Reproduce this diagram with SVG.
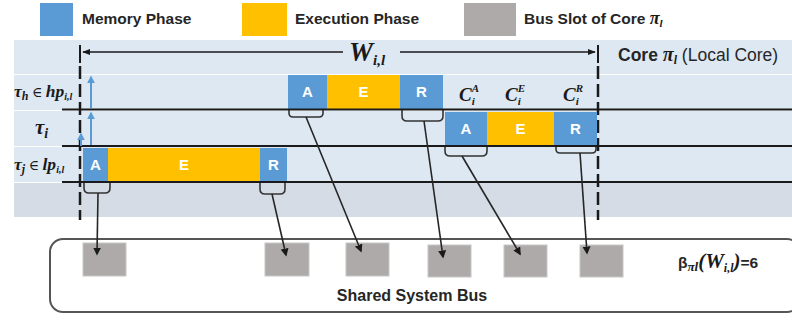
<svg xmlns="http://www.w3.org/2000/svg" width="792" height="320" viewBox="0 0 792 320">
  <style>
    .mem { fill: #5b9bd5; }
    .exe { fill: #ffc000; }
    .slot { fill: #aeaaaa; stroke: #c8c6c6; stroke-width: 1; }
    .legend { font-family: "Liberation Sans", Arial, sans-serif; font-weight: bold; font-size: 15.5px; fill: #262626; }
    .phase { font-family: "Liberation Sans", Arial, sans-serif; font-weight: bold; font-size: 15px; fill: #ffffff; text-anchor: middle; }
    .math { font-family: "Liberation Serif", "DejaVu Serif", serif; font-weight: bold; font-style: italic; fill: #1a1a1a; }
    .axis { stroke: #1a1a1a; stroke-width: 2; fill: none; }
    .dash { stroke: #1a1a1a; stroke-width: 2.5; stroke-dasharray: 13 5; fill: none; }
    .brace { stroke: #333; stroke-width: 1.6; fill: none; }
    .conn { stroke: #262626; stroke-width: 1.6; fill: none; marker-end: url(#tip); }
    .up { stroke: #5b9bd5; stroke-width: 2; fill: none; marker-end: url(#tipBlue); }
  </style>
  <defs>
    <marker id="tip" viewBox="0 0 10 10" refX="8" refY="5" markerWidth="5" markerHeight="5" orient="auto">
      <path d="M0,0 L10,5 L0,10 z" fill="#1a1a1a"/>
    </marker>
    <marker id="tipBlue" viewBox="0 0 10 10" refX="8" refY="5" markerWidth="4" markerHeight="4" orient="auto">
      <path d="M0,0 L10,5 L0,10 z" fill="#5b9bd5"/>
    </marker>
    <marker id="tipW" viewBox="0 0 10 10" refX="9" refY="5" markerWidth="5" markerHeight="5" orient="auto">
      <path d="M0,1 L10,5 L0,9 z" fill="#1a1a1a"/>
    </marker>
  </defs>

  <rect width="792" height="320" fill="#ffffff"/>

  <!-- legend -->
  <g id="legend">
    <rect x="40" y="3" width="33" height="33" class="mem"/>
    <text x="82" y="24" class="legend">Memory Phase</text>
    <rect x="242" y="3" width="45" height="33" class="exe"/>
    <text x="295" y="24" class="legend">Execution Phase</text>
    <rect x="464" y="3" width="52" height="33" fill="#aeaaaa"/>
    <text x="524" y="24" class="legend">Bus Slot of Core <tspan class="math" font-size="18">π</tspan><tspan class="math" font-size="11" dy="3">l</tspan></text>
  </g>

  <!-- timeline background rows -->
  <g id="timeline-band">
    <rect x="14" y="40" width="778" height="34" fill="#dee8f3"/>
    <rect x="14" y="75" width="778" height="35" fill="#dee8f3"/>
    <rect x="14" y="111" width="778" height="35" fill="#dee8f3"/>
    <rect x="14" y="147" width="778" height="35" fill="#dee8f3"/>
    <rect x="14" y="183" width="778" height="34" fill="#d6dce5"/>
  </g>

  <!-- row labels -->
  <g id="row-labels">
    <text x="14" y="97" class="math" font-size="17.5">τ<tspan font-size="12" dy="3">h</tspan><tspan dy="-3" font-style="normal" font-weight="normal" font-size="14"> ∈ </tspan>hp<tspan font-size="10" dy="3">i,l</tspan></text>
    <text x="35" y="134" class="math" font-size="21">τ<tspan font-size="14" dy="4">i</tspan></text>
    <text x="14" y="170" class="math" font-size="17.5">τ<tspan font-size="12" dy="3">j</tspan><tspan dy="-3" font-style="normal" font-weight="normal" font-size="14"> ∈ </tspan>lp<tspan font-size="10" dy="3">i,l</tspan></text>
  </g>

  <!-- window W_{i,l} -->
  <g id="window">
    <line x1="80" y1="45" x2="80" y2="63" class="axis"/>
    <line x1="598" y1="45" x2="598" y2="63" class="axis"/>
    <line x1="80" y1="66" x2="80" y2="220" class="dash"/>
    <line x1="598" y1="66" x2="598" y2="220" class="dash"/>
    <line x1="343" y1="52" x2="83" y2="52" stroke="#1a1a1a" stroke-width="1.6" marker-end="url(#tipW)"/>
    <line x1="400" y1="52" x2="595" y2="52" stroke="#1a1a1a" stroke-width="1.6" marker-end="url(#tipW)"/>
    <text x="349" y="61" class="math" font-size="27">W<tspan font-size="15" dy="4">i,l</tspan></text>
    <text x="618" y="61" class="legend" style="font-size:17.5px">Core <tspan class="math" font-size="20">π</tspan><tspan class="math" font-size="12" dy="3">l</tspan><tspan dy="-3" font-weight="normal"> (Local Core)</tspan></text>
  </g>

  <!-- task τ_h (higher priority) -->
  <g id="task-h">
    <rect x="288" y="75" width="39" height="34" class="mem"/>
    <text x="307.5" y="97" class="phase">A</text>
    <rect x="327" y="75" width="73" height="34" class="exe"/>
    <text x="363.5" y="97" class="phase">E</text>
    <rect x="400" y="75" width="43" height="34" class="mem"/>
    <text x="421.5" y="97" class="phase">R</text>
    <path d="M289,110 v3 q0,4 4,4 h26 q4,0 4,-4 v-3" class="brace"/>
    <path d="M402,110 v6 q0,5 5,5 h31 q5,0 5,-5 v-6" class="brace"/>
  </g>

  <!-- task τ_i -->
  <g id="task-i">
    <rect x="445" y="112" width="42" height="34" class="mem"/>
    <text x="466" y="134" class="phase">A</text>
    <rect x="487" y="112" width="67" height="34" class="exe"/>
    <text x="520.5" y="134" class="phase">E</text>
    <rect x="554" y="112" width="43" height="34" class="mem"/>
    <text x="575.5" y="134" class="phase">R</text>
    <path d="M445,147 v4 q0,5 5,5 h32 q5,0 5,-5 v-4" class="brace"/>
    <path d="M556,147 v2 q0,4 4,4 h32 q4,0 4,-4 v-2" class="brace"/>
    <text x="459" y="101" class="math" font-size="19">C<tspan font-size="11" dy="4">i</tspan><tspan font-size="11" dx="-3" dy="-13">A</tspan></text>
    <text x="505" y="101" class="math" font-size="19">C<tspan font-size="11" dy="4">i</tspan><tspan font-size="11" dx="-3" dy="-13">E</tspan></text>
    <text x="563" y="101" class="math" font-size="19">C<tspan font-size="11" dy="4">i</tspan><tspan font-size="11" dx="-3" dy="-13">R</tspan></text>
  </g>

  <!-- task τ_j (lower priority) -->
  <g id="task-j">
    <rect x="83" y="148" width="25" height="33" class="mem"/>
    <text x="95.5" y="170" class="phase">A</text>
    <rect x="108" y="148" width="152" height="33" class="exe"/>
    <text x="184" y="170" class="phase">E</text>
    <rect x="260" y="148" width="27" height="33" class="mem"/>
    <text x="273.5" y="170" class="phase">R</text>
    <path d="M84,183 v5 q0,5 5,5 h16 q5,0 5,-5 v-5" class="brace"/>
    <path d="M260,183 v6 q0,5 5,5 h15 q5,0 5,-5 v-6" class="brace"/>
  </g>

  <!-- row boundaries -->
  <g id="row-lines">
    <line x1="62" y1="109.5" x2="792" y2="109.5" class="axis"/>
    <line x1="62" y1="146" x2="792" y2="146" class="axis"/>
    <line x1="62" y1="182" x2="792" y2="182" class="axis"/>
  </g>

  <!-- shared system bus -->
  <g id="bus">
    <rect x="50" y="239" width="750" height="73" rx="13" ry="13" fill="#ffffff" stroke="#555555" stroke-width="2"/>
    <rect x="83" y="243" width="43" height="33" class="slot"/>
    <rect x="265" y="243" width="44" height="33" class="slot"/>
    <rect x="346" y="243" width="43" height="33" class="slot"/>
    <rect x="428" y="245" width="43" height="32" class="slot"/>
    <rect x="504" y="245" width="43" height="32" class="slot"/>
    <rect x="580" y="245" width="43" height="32" class="slot"/>
    <text x="412" y="301" class="legend" style="font-size:16px" text-anchor="middle">Shared System Bus</text>
    <text x="678" y="268" class="legend">β<tspan class="math" font-size="13" dy="3">πl</tspan><tspan class="math" font-size="21" font-weight="normal" dy="-3">(W</tspan><tspan class="math" font-size="12" dy="4">i,l</tspan><tspan class="math" font-size="21" font-weight="normal" dy="-4">)</tspan>=6</text>
  </g>

  <!-- connectors -->
  <g id="connectors">
    <line x1="98" y1="193" x2="97" y2="254" class="conn"/>
    <line x1="272" y1="194" x2="286" y2="255" class="conn"/>
    <line x1="306" y1="117" x2="361" y2="251" class="conn"/>
    <line x1="424" y1="121" x2="443" y2="257" class="conn"/>
    <line x1="462" y1="156" x2="520" y2="254" class="conn"/>
    <line x1="580" y1="153" x2="587" y2="253" class="conn"/>
    <line x1="91" y1="145" x2="91" y2="113" class="up"/>
    <line x1="91" y1="108" x2="91" y2="77" class="up"/>
    <line x1="81" y1="146" x2="81" y2="134" class="up"/>
  </g>
</svg>
